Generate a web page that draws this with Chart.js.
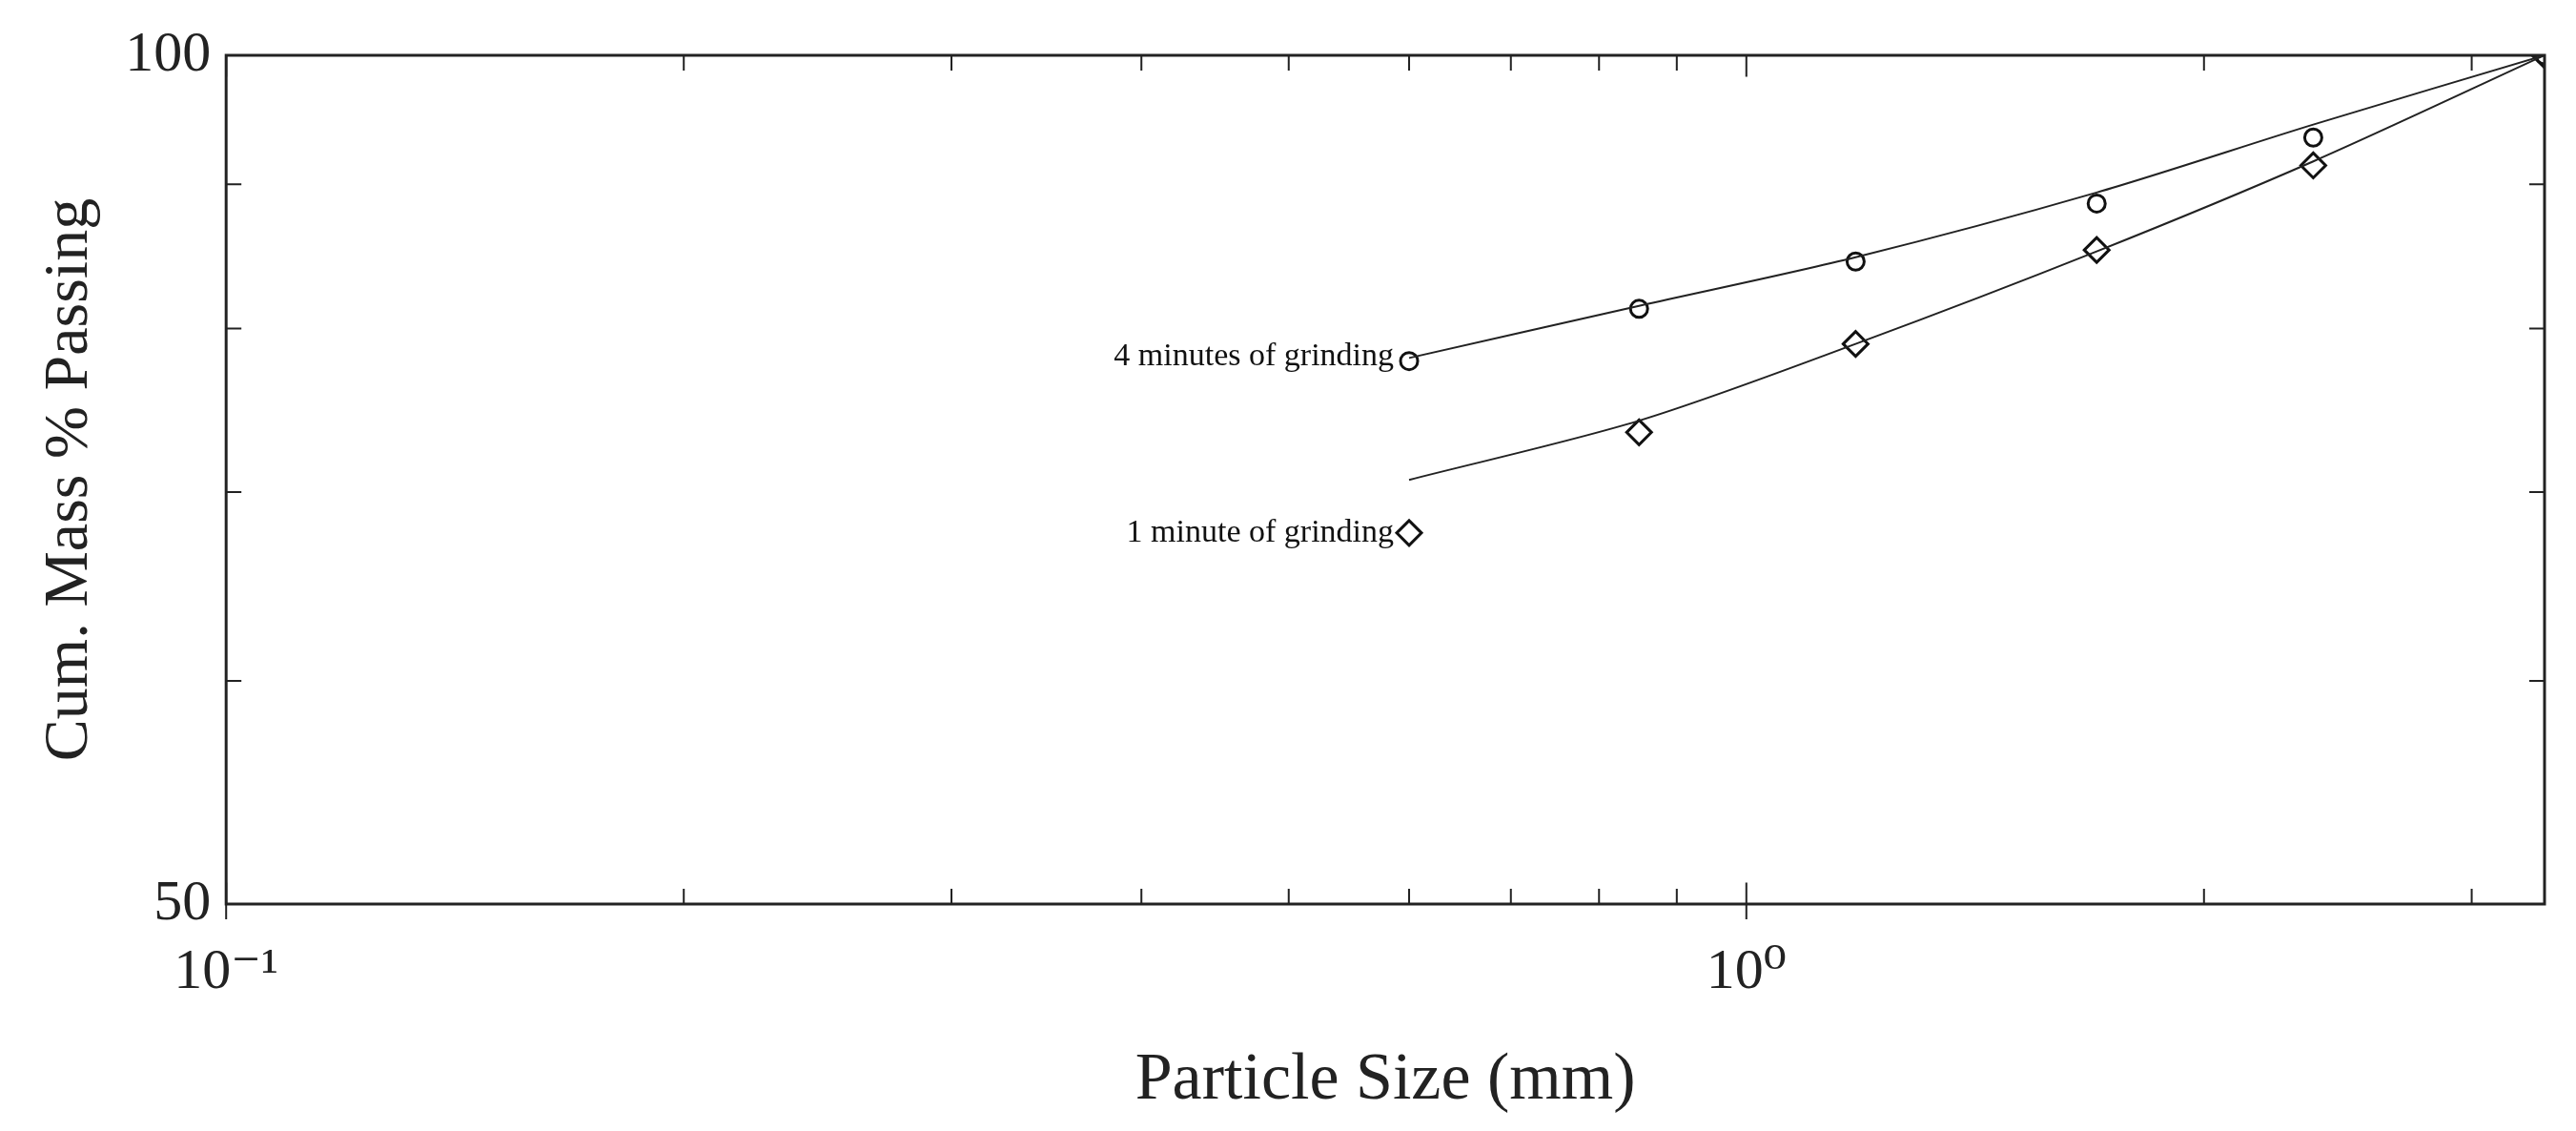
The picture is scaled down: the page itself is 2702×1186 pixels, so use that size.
<!DOCTYPE html>
<html><head><meta charset="utf-8">
<script src="https://cdn.jsdelivr.net/npm/chart.js@4/dist/chart.umd.min.js"></script>
<style>html,body{margin:0;padding:0;background:#fff}#w{width:2702px;height:1186px}</style>
</head><body><div id="w"><canvas id="c"></canvas></div>
<script>
const sizes = [0.6, 0.85, 1.18, 1.7, 2.36, 3.35];
const pass4min = [77.9, 81.3, 84.5, 88.6, 93.5, 100];
const pass1min = [67.7, 73.5, 79.0, 85.3, 91.4, 100];
const fit4min = [78.1, 81.5, 84.8, 89.4, 94.5, 100];
const fit1min = [70.7, 74.2, 79.0, 85.2, 91.7, 100];
const xTickValues = [0.1, 1];
const xTickLabels = ['10⁻¹', '10⁰'];
const yTickValues = [50, 100];
const seriesLabels = ['4 minutes of grinding', '1 minute of grinding'];
const xMinor = [0.2,0.3,0.4,0.5,0.6,0.7,0.8,0.9,2,3];
const yMinor = [60,70,80,90];

const pts = (xs, ys) => xs.map((x,i)=>({x, y: ys[i]}));
const FONT = '"Liberation Serif", "DejaVu Serif", serif';

const framePlugin = {
  id:'frame',
  afterDraw(chart){
    const {ctx, chartArea:a, scales:{x,y}} = chart;
    ctx.save();
    ctx.strokeStyle='#222'; ctx.lineWidth=3;
    ctx.strokeRect(a.left, a.top, a.right-a.left, a.bottom-a.top);
    ctx.lineWidth=2;
    const L=16;
    xMinor.concat(xTickValues).forEach(v=>{
      const px=x.getPixelForValue(v);
      const len = xTickValues.includes(v)? L*1.4 : L;
      ctx.beginPath(); ctx.moveTo(px,a.bottom); ctx.lineTo(px,a.bottom-len);
      ctx.moveTo(px,a.top); ctx.lineTo(px,a.top+len); ctx.stroke();
      if(xTickValues.includes(v)){ctx.beginPath();ctx.moveTo(px,a.bottom);ctx.lineTo(px,a.bottom+L);ctx.stroke();}
    });
    yMinor.forEach(v=>{
      const py=y.getPixelForValue(v);
      ctx.beginPath(); ctx.moveTo(a.left,py); ctx.lineTo(a.left+L,py);
      ctx.moveTo(a.right,py); ctx.lineTo(a.right-L,py); ctx.stroke();
    });
    ctx.fillStyle='#111'; ctx.font='34px '+FONT; ctx.textAlign='right'; ctx.textBaseline='middle';
    const lx = x.getPixelForValue(sizes[0]) - 16;
    ctx.fillText(seriesLabels[0], lx, y.getPixelForValue(pass4min[0]) - 5);
    ctx.fillText(seriesLabels[1], lx, y.getPixelForValue(pass1min[0]));
    ctx.restore();
  }
};

new Chart(document.getElementById('c'), {
  type:'scatter',
  data:{datasets:[
    {data:pts(sizes,fit4min), showLine:true, borderColor:'#222', borderWidth:2, pointRadius:0, tension:0.3},
    {data:pts(sizes,fit1min), showLine:true, borderColor:'#222', borderWidth:2, pointRadius:0, tension:0.3},
    {data:pts(sizes,pass4min), showLine:false, pointStyle:'circle', pointRadius:9, borderColor:'#111', borderWidth:3, backgroundColor:'#fff'},
    {data:pts(sizes,pass1min), showLine:false, pointStyle:'rectRot', pointRadius:13, borderColor:'#111', borderWidth:3, backgroundColor:'#fff'}
  ]},
  options:{
    responsive:true, maintainAspectRatio:false, animation:false,
    layout:{padding:{top:58, right:33, left:30, bottom:6}},
    plugins:{legend:{display:false}, tooltip:{enabled:false}},
    scales:{
      x:{type:'logarithmic', min:0.1, max:3.35,
        afterBuildTicks(s){ s.ticks = xTickValues.map(v=>({value:v})); },
        ticks:{callback:(v)=>xTickLabels[xTickValues.indexOf(v)] ?? '', color:'#222', font:{family:FONT,size:60}, padding:28, maxRotation:0},
        grid:{display:false}, border:{display:false},
        title:{display:true, text:'Particle Size (mm)', color:'#222', font:{family:FONT,size:70}, padding:{top:8}}
      },
      y:{type:'logarithmic', min:50, max:100,
        afterBuildTicks(s){ s.ticks = yTickValues.map(v=>({value:v})); },
        ticks:{callback:(v)=>String(v), color:'#222', font:{family:FONT,size:60}, padding:8},
        grid:{display:false}, border:{display:false},
        title:{display:true, text:'Cum. Mass % Passing', color:'#222', font:{family:FONT,size:66}, padding:{bottom:10}}
      }
    }
  },
  plugins:[framePlugin]
});
</script></body></html>
